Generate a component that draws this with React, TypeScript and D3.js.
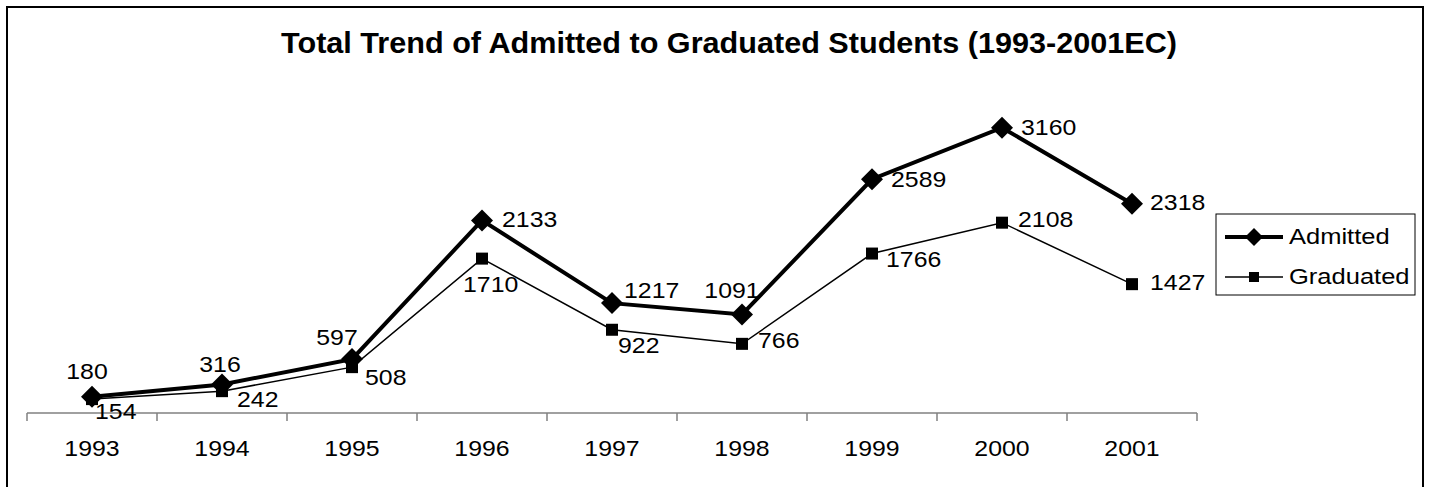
import React from "react";
import * as d3 from "d3";

const years = ["1993", "1994", "1995", "1996", "1997", "1998", "1999", "2000", "2001"];
const admitted = [180, 316, 597, 2133, 1217, 1091, 2589, 3160, 2318];
const graduated = [154, 242, 508, 1710, 922, 766, 1766, 2108, 1427];
const seriesNames = ["Admitted", "Graduated"];
const title = "Total Trend of Admitted to Graduated Students (1993-2001EC)";

// label placement (anchor, dx, dy) relative to each point, as Excel placed them
const admittedLabelPos: [string, number, number][] = [
  ["middle", -5, -18], ["middle", -2, -12], ["middle", -15, -14], ["start", 20, 7], ["start", 12, -5],
  ["middle", -10, -16], ["start", 19, 8], ["start", 19, 7], ["start", 18, 6],
];
const graduatedLabelPos: [string, number, number][] = [
  ["start", 3, 20], ["start", 15, 16], ["start", 13, 18], ["start", -19, 33], ["start", 6, 23],
  ["start", 16, 4], ["start", 14, 13], ["start", 16, 4], ["start", 18, 6],
];

const W = 1429, H = 487;
const FONT = "'Liberation Sans', Arial, sans-serif";
const SX = 1.13;

function T({ x, y, anchor = "start", size = 22, sx = SX, weight = "normal", children }: any) {
  return (
    <text
      transform={`translate(${x},${y}) scale(${sx},1)`}
      textAnchor={anchor}
      fontSize={size}
      fontWeight={weight}
      fill="#000"
    >
      {children}
    </text>
  );
}

export default function App() {
  const x = d3.scaleBand<string>().domain(years).range([27, 1197]);
  const y = d3.scaleLinear().domain([0, 3500]).range([413, 97]);
  const cx = (d: string) => (x(d) as number) + x.bandwidth() / 2;
  const line = d3.line<number>().x((_, i) => cx(years[i])).y((v) => y(v));
  const diamond = (px: number, py: number, r: number) =>
    `M${px},${py - r}L${px + r},${py}L${px},${py + r}L${px - r},${py}Z`;
  const bounds = years.map((d) => x(d) as number).concat([1197]);

  return (
    <svg width={W} height={H} style={{ position: "absolute", left: 0, top: 0, background: "#fff" }} fontFamily={FONT}>
      <rect x={0} y={0} width={W} height={H} fill="#fff" />
      <rect x={7} y={7} width={1416} height={500} fill="none" stroke="#000" strokeWidth={2} />
      <T x={729} y={53} anchor="middle" size={30} sx={1.02} weight="bold">{title}</T>

      {/* category axis */}
      <line x1={27} x2={1197} y1={y(0)} y2={y(0)} stroke="#808080" strokeWidth={1.5} />
      {bounds.map((b, i) => (
        <line key={i} x1={b} x2={b} y1={y(0)} y2={y(0) + 8} stroke="#808080" strokeWidth={1.5} />
      ))}
      {years.map((d) => (
        <T key={d} x={cx(d)} y={456} anchor="middle">{d}</T>
      ))}

      {/* Graduated */}
      <path d={line(graduated) || ""} fill="none" stroke="#000" strokeWidth={1.5} />
      {graduated.map((v, i) => (
        <rect key={i} x={cx(years[i]) - 6} y={y(v) - 6} width={12} height={12} fill="#000" />
      ))}
      {/* Admitted */}
      <path d={line(admitted) || ""} fill="none" stroke="#000" strokeWidth={4} />
      {admitted.map((v, i) => (
        <path key={i} d={diamond(cx(years[i]), y(v), 11)} fill="#000" />
      ))}

      {admitted.map((v, i) => {
        const [a, dx, dy] = admittedLabelPos[i];
        return <T key={"a" + i} x={cx(years[i]) + dx} y={y(v) + dy} anchor={a}>{v}</T>;
      })}
      {graduated.map((v, i) => {
        const [a, dx, dy] = graduatedLabelPos[i];
        return <T key={"g" + i} x={cx(years[i]) + dx} y={y(v) + dy} anchor={a}>{v}</T>;
      })}

      {/* legend */}
      <rect x={1216} y={214} width={199} height={81} fill="#fff" stroke="#000" strokeWidth={1} />
      <line x1={1225} x2={1283} y1={237} y2={237} stroke="#000" strokeWidth={4} />
      <path d={diamond(1254, 237, 9)} fill="#000" />
      <T x={1289} y={244} sx={1.16}>{seriesNames[0]}</T>
      <line x1={1225} x2={1283} y1={277} y2={277} stroke="#000" strokeWidth={1.5} />
      <rect x={1249} y={272} width={10} height={10} fill="#000" />
      <T x={1289} y={284} sx={1.16}>{seriesNames[1]}</T>
    </svg>
  );
}
